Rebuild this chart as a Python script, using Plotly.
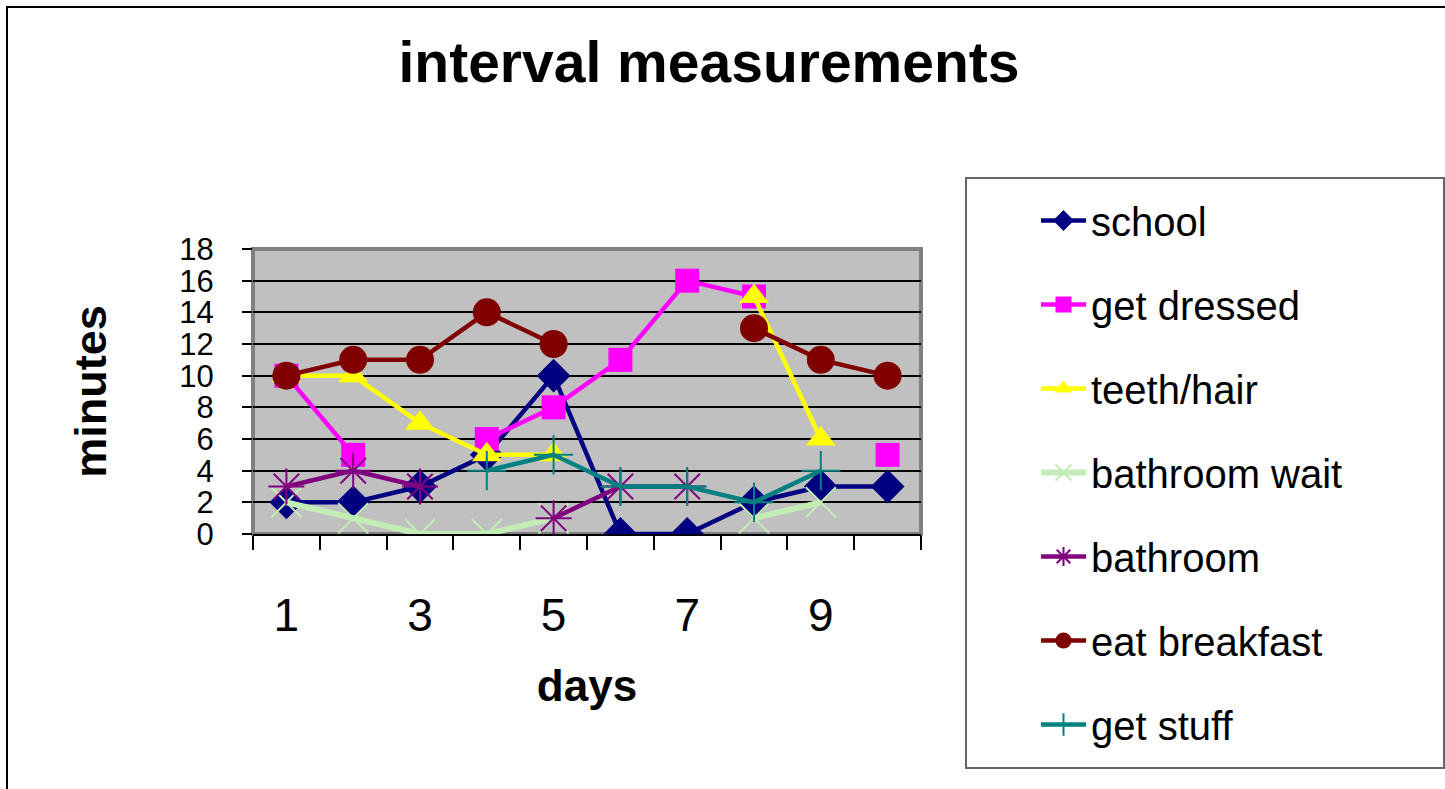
import plotly.graph_objects as go

days = [1, 2, 3, 4, 5, 6, 7, 8, 9, 10]
school = [2, 2, 3, 5, 10, 0, 0, 2, 3, 3]
get_dressed = [10, 5, None, 6, 8, 11, 16, 15, None, 5]
teeth_hair = [10, 10, 7, 5, 5, None, None, 15, 6, None]
bathroom_wait = [2, 1, 0, 0, 1, None, None, 1, 2, None]
bathroom = [3, 4, 3, None, 1, 3, 3, None, None, None]
eat_breakfast = [10, 11, 11, 14, 12, None, None, 13, 11, 10]
get_stuff = [None, None, None, 4, 5, 3, 3, 2, 4, None]

x_tick_vals = [1, 3, 5, 7, 9]
x_tick_text = ["1", "3", "5", "7", "9"]
y_tick_vals = [0, 2, 4, 6, 8, 10, 12, 14, 16, 18]

series = [
    ("school", school, "#000080", "diamond", 26, 0),
    ("get dressed", get_dressed, "#FF00FF", "square", 24, 0),
    ("teeth/hair", teeth_hair, "#FFFF00", "triangle-up", 26, 0),
    ("bathroom wait", bathroom_wait, "#C3EDB5", "x-thin-open", 30, 2),
    ("bathroom", bathroom, "#800080", "asterisk-open", 30, 2),
    ("eat breakfast", eat_breakfast, "#800000", "circle", 28, 0),
    ("get stuff", get_stuff, "#008080", "cross-thin-open", 28, 2),
]

W, H = 1445, 789
L, R, T, B = 253, 921, 249, 534

fig = go.Figure()
for name, vals, color, sym, size, lw in series:
    lwid = 6 if name == "bathroom wait" else 4.5
    fig.add_trace(go.Scatter(
        x=days, y=vals, name=name, mode="lines+markers",
        legendgroup=name,
        connectgaps=False,
        line=dict(color=color, width=lwid),
        marker=dict(symbol=sym, size=size, color=color,
                    line=dict(color=color, width=lw)),
    ))

def px_x(p):
    return (p - L) / (R - L)

def px_y(p):
    return (B - p) / (B - T)

shapes = [
    # outer border
    dict(type="rect", xref="paper", yref="paper",
         x0=px_x(7), x1=px_x(1460), y0=px_y(800), y1=px_y(7),
         line=dict(color="black", width=2), fillcolor="rgba(0,0,0,0)", layer="below"),
    # plot frame
    dict(type="rect", xref="paper", yref="paper", x0=0, x1=1, y0=0, y1=1,
         line=dict(color="#808080", width=4), fillcolor="rgba(0,0,0,0)", layer="between"),
    # legend box
    dict(type="rect", xref="paper", yref="paper",
         x0=px_x(966), x1=px_x(1444), y0=px_y(768), y1=px_y(178),
         line=dict(color="#666666", width=2), fillcolor="white", layer="below"),
]

fig.update_layout(
    width=W, height=H, autosize=False,
    margin=dict(l=L, r=W - R, t=T, b=H - B, pad=0),
    paper_bgcolor="white", plot_bgcolor="#C0C0C0",
    font=dict(family="Liberation Sans, Arial, sans-serif", color="black"),
    title=dict(text="<b>interval measurements</b>", x=709 / W, xanchor="center",
               y=1 - 62 / H, yanchor="middle", font=dict(size=57)),
    showlegend=True,
    legend=dict(x=px_x(1036), y=px_y(188), xanchor="left", yanchor="top",
                xref="paper", yref="paper", maxheight=760,
                font=dict(size=40), bgcolor="rgba(0,0,0,0)", borderwidth=0,
                tracegroupgap=29, itemwidth=45, traceorder="grouped"),
    shapes=shapes,
    xaxis=dict(range=[0.5, 10.5], tickmode="array", tickvals=x_tick_vals,
               ticktext=x_tick_text, ticks="", showgrid=False, zeroline=False,
               tickfont=dict(size=46), ticklabelstandoff=40,
               showline=True, linecolor="black", linewidth=2,
               minor=dict(tickmode="linear", tick0=0.5, dtick=1, ticks="outside",
                          ticklen=14, tickcolor="black", tickwidth=1.5, showgrid=False),
               title=dict(text="<b>days</b>", font=dict(size=44), standoff=30)),
    yaxis=dict(range=[0, 18], tickmode="array", tickvals=y_tick_vals,
               ticks="outside", ticklen=10, tickcolor="black", tickwidth=1.5,
               showgrid=True, gridcolor="black", gridwidth=1.5, zeroline=False,
               tickfont=dict(size=31), ticklabelstandoff=22,
               title=dict(text="<b>minutes</b>", font=dict(size=45), standoff=58)),
)

fig.write_html("out.html")
